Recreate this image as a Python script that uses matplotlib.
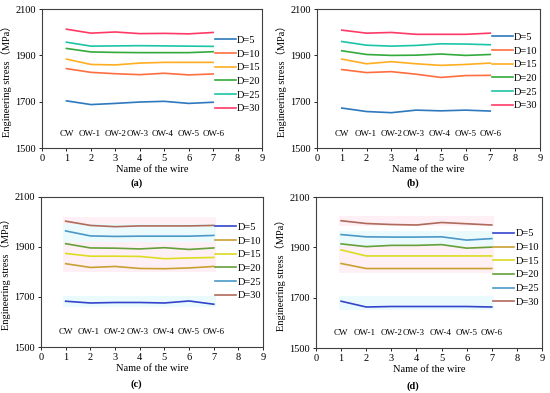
import numpy as np
import matplotlib.pyplot as plt

plt.rcParams['font.family'] = ['Liberation Serif', 'Noto Sans CJK SC']
plt.rcParams['font.size'] = 7.5

x = [1, 2, 3, 4, 5, 6, 7]
wires = ['CW', 'OW-1', 'OW-2', 'OW-3', 'OW-4', 'OW-5', 'OW-6']
wire_x = [1, 1.95, 3, 3.9, 4.95, 6, 7]
labels = ['D=5', 'D=10', 'D=15', 'D=20', 'D=25', 'D=30']

# engineering stress, MPa
a_vals = [
    [1704, 1688, 1693, 1699, 1702, 1693, 1698],
    [1843, 1827, 1821, 1817, 1823, 1816, 1820],
    [1884, 1861, 1859, 1867, 1870, 1870, 1870],
    [1930, 1915, 1913, 1912, 1912, 1912, 1916],
    [1957, 1940, 1941, 1942, 1941, 1940, 1939],
    [2013, 1996, 2001, 1994, 1995, 1993, 1999],
]
b_vals = [
    [1673, 1658, 1653, 1664, 1661, 1664, 1660],
    [1839, 1826, 1830, 1819, 1805, 1813, 1814],
    [1884, 1864, 1873, 1864, 1857, 1861, 1867],
    [1920, 1904, 1900, 1901, 1906, 1900, 1904],
    [1960, 1944, 1940, 1943, 1950, 1949, 1946],
    [2009, 1996, 1999, 1991, 1991, 1991, 1996],
]
c_vals = [
    [1683, 1676, 1678, 1678, 1676, 1684, 1671],
    [1833, 1818, 1822, 1814, 1813, 1816, 1822],
    [1874, 1863, 1863, 1862, 1853, 1856, 1858],
    [1913, 1896, 1895, 1892, 1897, 1890, 1896],
    [1964, 1944, 1942, 1943, 1943, 1943, 1946],
    [2003, 1986, 1981, 1984, 1984, 1984, 1986],
]
d_vals = [
    [1686, 1663, 1665, 1665, 1665, 1665, 1663],
    [1836, 1816, 1816, 1816, 1816, 1816, 1816],
    [1890, 1866, 1866, 1866, 1866, 1866, 1866],
    [1914, 1903, 1908, 1908, 1911, 1897, 1901],
    [1951, 1942, 1941, 1941, 1942, 1929, 1935],
    [2006, 1995, 1991, 1989, 1999, 1994, 1989],
]

colors_ab = ['#2E78BE', '#FF6E40', '#FFAE22', '#33AA3C', '#1CC4A6', '#FF3A66']
colors_cd = ['#3344CC', '#C9A032', '#DCDC22', '#66A03A', '#4A98C8', '#B06A5A']

# faint background bands in (c) and (d): (low, high, colour)
bands_c = [(1990, 2020, '#FFF0F5'), (1920, 1990, '#EBFBFD'),
           (1800, 1920, '#FFF0F5'), (1660, 1705, '#EBFBFD')]
bands_d = [(1984, 2026, '#FFF0F5'), (1904, 1964, '#EBFBFD'),
           (1800, 1904, '#FFF0F5'), (1652, 1708, '#EBFBFD')]

fig = plt.figure(figsize=(5.5, 3.93), dpi=100)
positions = [
    [0.0764, 0.623, 0.400, 0.354],
    [0.5764, 0.623, 0.405, 0.354],
    [0.0745, 0.117, 0.404, 0.382],
    [0.5745, 0.1145, 0.411, 0.384],
]
panels = [
    ('(a)', a_vals, colors_ab, None, 0.53),
    ('(b)', b_vals, colors_ab, None, 0.55),
    ('(c)', c_vals, colors_cd, bands_c, 0.57),
    ('(d)', d_vals, colors_cd, bands_d, 0.53),
]

for pos, (tag, vals, cols, bands, leg_y) in zip(positions, panels):
    ax = fig.add_axes(pos)
    if bands:
        for lo, hi, bc in bands:
            ax.fill_between([0.9, 7.1], lo, hi, color=bc, lw=0, zorder=0)
    for v, c, lab in zip(vals, cols, labels):
        ax.plot(x, v, color=c, lw=1.2, label=lab, solid_joinstyle='round')
    for wx, w in zip(wire_x, wires):
        ax.text(wx, 1560, w, ha='center', va='center', fontsize=6.5)
    ax.set_xlim(0, 9)
    ax.set_ylim(1500, 2100)
    ax.set_xticks(range(10))
    ax.set_yticks([1500, 1700, 1900, 2100])
    ax.tick_params(direction='out', length=2.5, width=0.6, pad=2, labelsize=7.5)
    for s in ax.spines.values():
        s.set_linewidth(0.8)
        s.set_color('#404040')
    ax.set_xlabel('Name of the wire', fontsize=7.5, labelpad=1)
    ax.set_ylabel('Engineering stress（MPa）', fontsize=7.5, labelpad=2)
    ax.legend(loc='center left', bbox_to_anchor=(0.785, leg_y), frameon=False,
              fontsize=7.5, handlelength=2.0, handletextpad=0.1,
              labelspacing=0.42, borderaxespad=0, borderpad=0)
    ax.text(0.43, -0.25, tag, transform=ax.transAxes, ha='center', va='center',
            fontsize=7.5, fontweight='bold')

fig.savefig('out.png', dpi=100)
